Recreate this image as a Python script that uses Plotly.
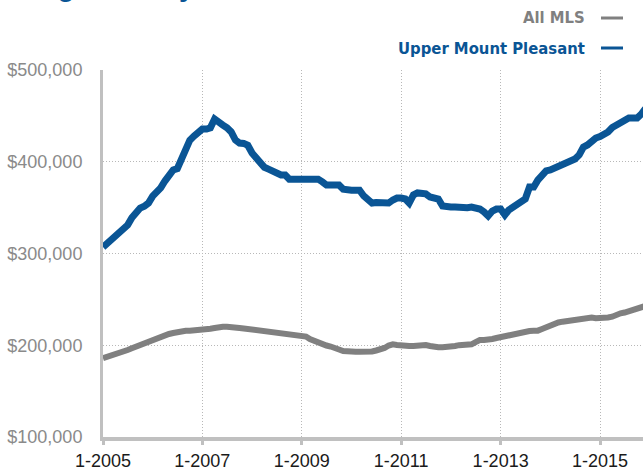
import pandas as pd
import plotly.graph_objects as go

# Monthly median prices, Jan 2005 onward
upper_mount_pleasant = [
    307000, 311000, 315000, 318500, 321000, 326000, 331000, 339000, 344000, 349500,
    351500, 355000, 362500, 367000, 371500, 379000, 386500, 391000, 392500, 402000,
    410500, 423500, 428000, 432500, 435700, 435700, 437000, 446600, 442000, 440000,
    437000, 432500, 423700, 420400, 420000, 418000, 409500, 404000, 399700, 394000,
    392000, 390000, 386700, 385600, 385600, 381000, 381000, 381000, 381000, 381000,
    381000, 381000, 381000, 378000, 374700, 374700, 375700, 374700, 370000, 369000,
    369000, 369000, 369000, 362700, 359400, 355000, 355600, 356000, 356000, 355000,
    358300, 360500, 360500, 359400, 355000, 363800, 366000, 366000, 365000, 361600,
    360500, 359400, 351800, 350700, 350700, 350700, 350000, 349600, 350000, 350700,
    349600, 348500, 345200, 340900, 346300, 348500, 348500, 342000, 347400, 350000,
    352900, 355000, 359400, 372500, 372500, 380000, 386700, 390000, 391000, 393200,
    395400, 396500, 398600, 400800, 403000, 407400, 416000, 418300, 422600, 425900,
    427500, 429200, 432500, 437300, 440000, 441200, 445000, 447700, 447700, 447700,
    452000, 458000,
]
all_mls = [
    185800, 187200, 188800, 189900, 191000, 192100, 194800, 196700, 198600, 200300,
    202500, 204600, 206300, 207900, 209500, 211200, 212300, 213400, 214500, 215500,
    215800, 215900, 216100, 216400, 216800, 217500, 218000, 218800, 219900, 220200,
    220200, 220200, 219600, 218800, 218300, 217700, 217200, 216400, 215900, 215200,
    214400, 213700, 213400, 213100, 213000, 212300, 211700, 211200, 210600, 209500,
    206800, 204600, 202500, 201000, 199700, 198600, 197600, 195400, 193700, 193000,
    193000, 193000, 193000, 193000, 192600, 193200, 194300, 195000, 197000, 199700,
    201000, 200300, 199400, 199200, 199200, 199200, 199700, 200800, 200300, 199200,
    198100, 197800, 197800, 197800, 198100, 199200, 200100, 200300, 200700, 201000,
    203500, 205700, 205700, 205700, 206800, 207900, 209000, 210100, 211200, 212000,
    212300, 212800, 214400, 215500, 215900, 215900, 217700, 219900, 221500, 223200,
    224800, 225700, 226400, 227000, 227700, 228600, 229700, 231100, 230200, 229400,
    229400, 229400, 230200, 231100, 233500, 234800, 235700, 237300, 238900, 240300,
    241700, 242800,
]
months = pd.date_range("2005-01-01", periods=len(all_mls), freq="MS")
y_ticks = [100000, 200000, 300000, 400000, 500000]
y_tick_labels = ["$100,000", "$200,000", "$300,000", "$400,000", "$500,000"]
title_text = "Single Family Homes"
series_names = ["All MLS", "Upper Mount Pleasant"]

BLUE = "#0a5595"
GRAY = "#808080"
AXIS = "#c0c0c0"
GRID = "#b8b8b8"

fig = go.Figure()
fig.add_trace(go.Scatter(x=months, y=all_mls, mode="lines", name=series_names[0],
                         line=dict(color=GRAY, width=6), hoverinfo="skip"))
fig.add_trace(go.Scatter(x=months, y=upper_mount_pleasant, mode="lines", name=series_names[1],
                         line=dict(color=BLUE, width=7), hoverinfo="skip"))

# plot-area edges in window pixels (page margin removed by post_script below)
L, R, T, B = 103, 643, 70, 437
W, H = 643, 470
pw, ph = R - L, B - T

def px(xp):
    return (xp - L) / pw

def py(yp):
    return 1 + (T - yp) / ph

fig.update_layout(
    width=W, height=H,
    margin=dict(l=L, r=W - R, t=T, b=H - B, pad=0, autoexpand=False),
    plot_bgcolor="white", paper_bgcolor="white",
    showlegend=False, hovermode=False,
    font=dict(family="Liberation Sans, Arial, sans-serif"),
)
fig.update_xaxes(
    automargin=False,
    range=["2005-01-01", "2015-11-13"],
    tick0="2005-01-01", dtick="M24", tickformat="%-m-%Y",
    showgrid=True, gridcolor=GRID, gridwidth=1, griddash="1px,2px",
    showline=True, linecolor=AXIS, linewidth=4,
    ticks="outside", ticklen=4, tickwidth=3, tickcolor=AXIS,
    tickfont=dict(size=18, color="#1a1a1a"),
    zeroline=False,
)
fig.update_yaxes(
    automargin=False,
    range=[100000, 500000],
    tickvals=y_ticks, ticktext=y_tick_labels,
    showgrid=True, gridcolor=GRID, gridwidth=1, griddash="1px,2px",
    showline=True, linecolor=AXIS, linewidth=3,
    ticks="", ticklabelstandoff=14,
    tickfont=dict(size=18, color="#8a8a8a"),
    zeroline=False,
)

# Title (mostly cut off at the top of the frame)
fig.add_annotation(text=f"<b>{title_text}</b>", xref="paper", yref="paper",
                   x=px(12), y=py(4), xanchor="left", yanchor="bottom",
                   showarrow=False, font=dict(size=28, color=BLUE,
                   family="Liberation Sans, Arial, sans-serif"))

# Legend as right-aligned text with trailing dash
leg_font = "Liberation Sans Narrow, DejaVu Sans Condensed, Arial Narrow, sans-serif"
for name, color, yc in [(series_names[0], GRAY, 18), (series_names[1], BLUE, 48)]:
    fig.add_annotation(text=f"<b>{name}</b>", xref="paper", yref="paper",
                       x=px(587), y=py(yc), xanchor="right", yanchor="middle",
                       showarrow=False, font=dict(size=16.5, color=color, family=leg_font))
    fig.add_shape(type="line", xref="paper", yref="paper",
                  x0=px(601), x1=px(623), y0=py(yc), y1=py(yc),
                  line=dict(color=color, width=3))

fig.write_html(
    "out.html",
    config={"displayModeBar": False, "staticPlot": True},
    post_script="document.body.style.margin='0';"
                "document.documentElement.style.overflow='hidden';"
                "document.body.style.overflow='hidden';",
)
